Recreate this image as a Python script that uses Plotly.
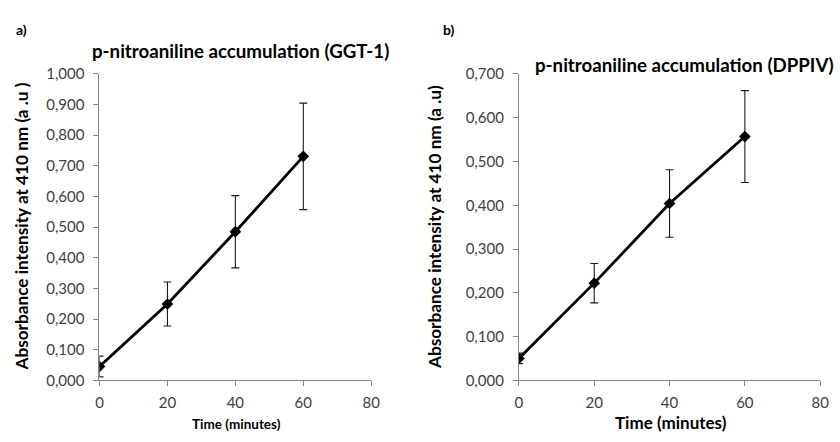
import plotly.graph_objects as go

time_min = [0, 20, 40, 60]
ggt_values = [0.045, 0.249, 0.485, 0.731]
ggt_errors = [0.034, 0.072, 0.118, 0.174]
dpp_values = [0.050, 0.222, 0.404, 0.557]
dpp_errors = [0.012, 0.045, 0.077, 0.105]

x_ticks = [0, 20, 40, 60, 80]
ggt_yticks = [i / 10 for i in range(11)]
dpp_yticks = [i / 10 for i in range(8)]

W, H = 840, 442
FONT = "Lato"
AX = "#868686"
TICKC = "#404040"

fig = go.Figure()

def add_series(x, y, e, xa, ya):
    fig.add_trace(go.Scatter(
        x=x, y=y, xaxis=xa, yaxis=ya, mode="lines+markers",
        line=dict(color="black", width=2.8),
        marker=dict(symbol="diamond", size=9, color="black"),
        error_y=dict(type="data", array=e, visible=True, color="#1a1a1a",
                     thickness=1.1, width=4),
        showlegend=False, hoverinfo="skip"))

add_series(time_min, ggt_values, ggt_errors, "x", "y")
add_series(time_min, dpp_values, dpp_errors, "x2", "y2")

ydom = [(H - 386) / H, (H - 66.7) / H]
axis_common = dict(showgrid=False, zeroline=False, showline=True, linecolor=AX,
                   linewidth=1, ticks="outside", ticklen=5, tickcolor=AX,
                   tickfont=dict(family=FONT, size=15, color=TICKC))

fig.update_layout(
    width=W, height=H, margin=dict(l=0, r=0, t=0, b=0),
    paper_bgcolor="white", plot_bgcolor="white", separators=",.",
    xaxis=dict(domain=[97 / W, 373 / W], range=[0, 80], tickvals=x_ticks,
               anchor="y", ticklabelstandoff=4, **axis_common),
    yaxis=dict(domain=ydom, range=[0, 1.0], tickvals=ggt_yticks, tickformat=".3f",
               anchor="x", ticklabelstandoff=6, **axis_common),
    xaxis2=dict(domain=[523 / W, 829 / W], range=[0, 80], tickvals=x_ticks,
                anchor="y2", ticklabelstandoff=4, **axis_common),
    yaxis2=dict(domain=ydom, range=[0, 0.7], tickvals=dpp_yticks, tickformat=".3f",
                anchor="x2", ticklabelstandoff=6, **axis_common),
)

def ann(text, x, y, size, angle=0, xanchor="center"):
    fig.add_annotation(text=text, x=x / W, y=1 - y / H, xref="paper", yref="paper",
                       showarrow=False, xanchor=xanchor, yanchor="middle",
                       textangle=angle,
                       font=dict(family=FONT, size=size, color="black"))

ann("<b>a)</b>", 10, 20, 14, xanchor="left")
ann("<b>b)</b>", 444, 20, 14, xanchor="left")
ann("<b>p-nitroaniline accumulation (GGT-1)</b>", 240, 43, 18.7)
ann("<b>p-nitroaniline accumulation (DPPIV)</b>", 691, 57, 18.7)
ann("<b>Absorbance intensity at 410 nm (a .u )</b>", 18, 226, 17.2, angle=-90)
ann("<b>Absorbance intensity at 410 nm (a .u)</b>", 438, 226, 17.2, angle=-90)
ann("<b>Time (minutes)</b>", 236, 432, 13.5)
ann("<b>Time (minutes)</b>", 677, 430, 17)

fig.write_html("out.html")
